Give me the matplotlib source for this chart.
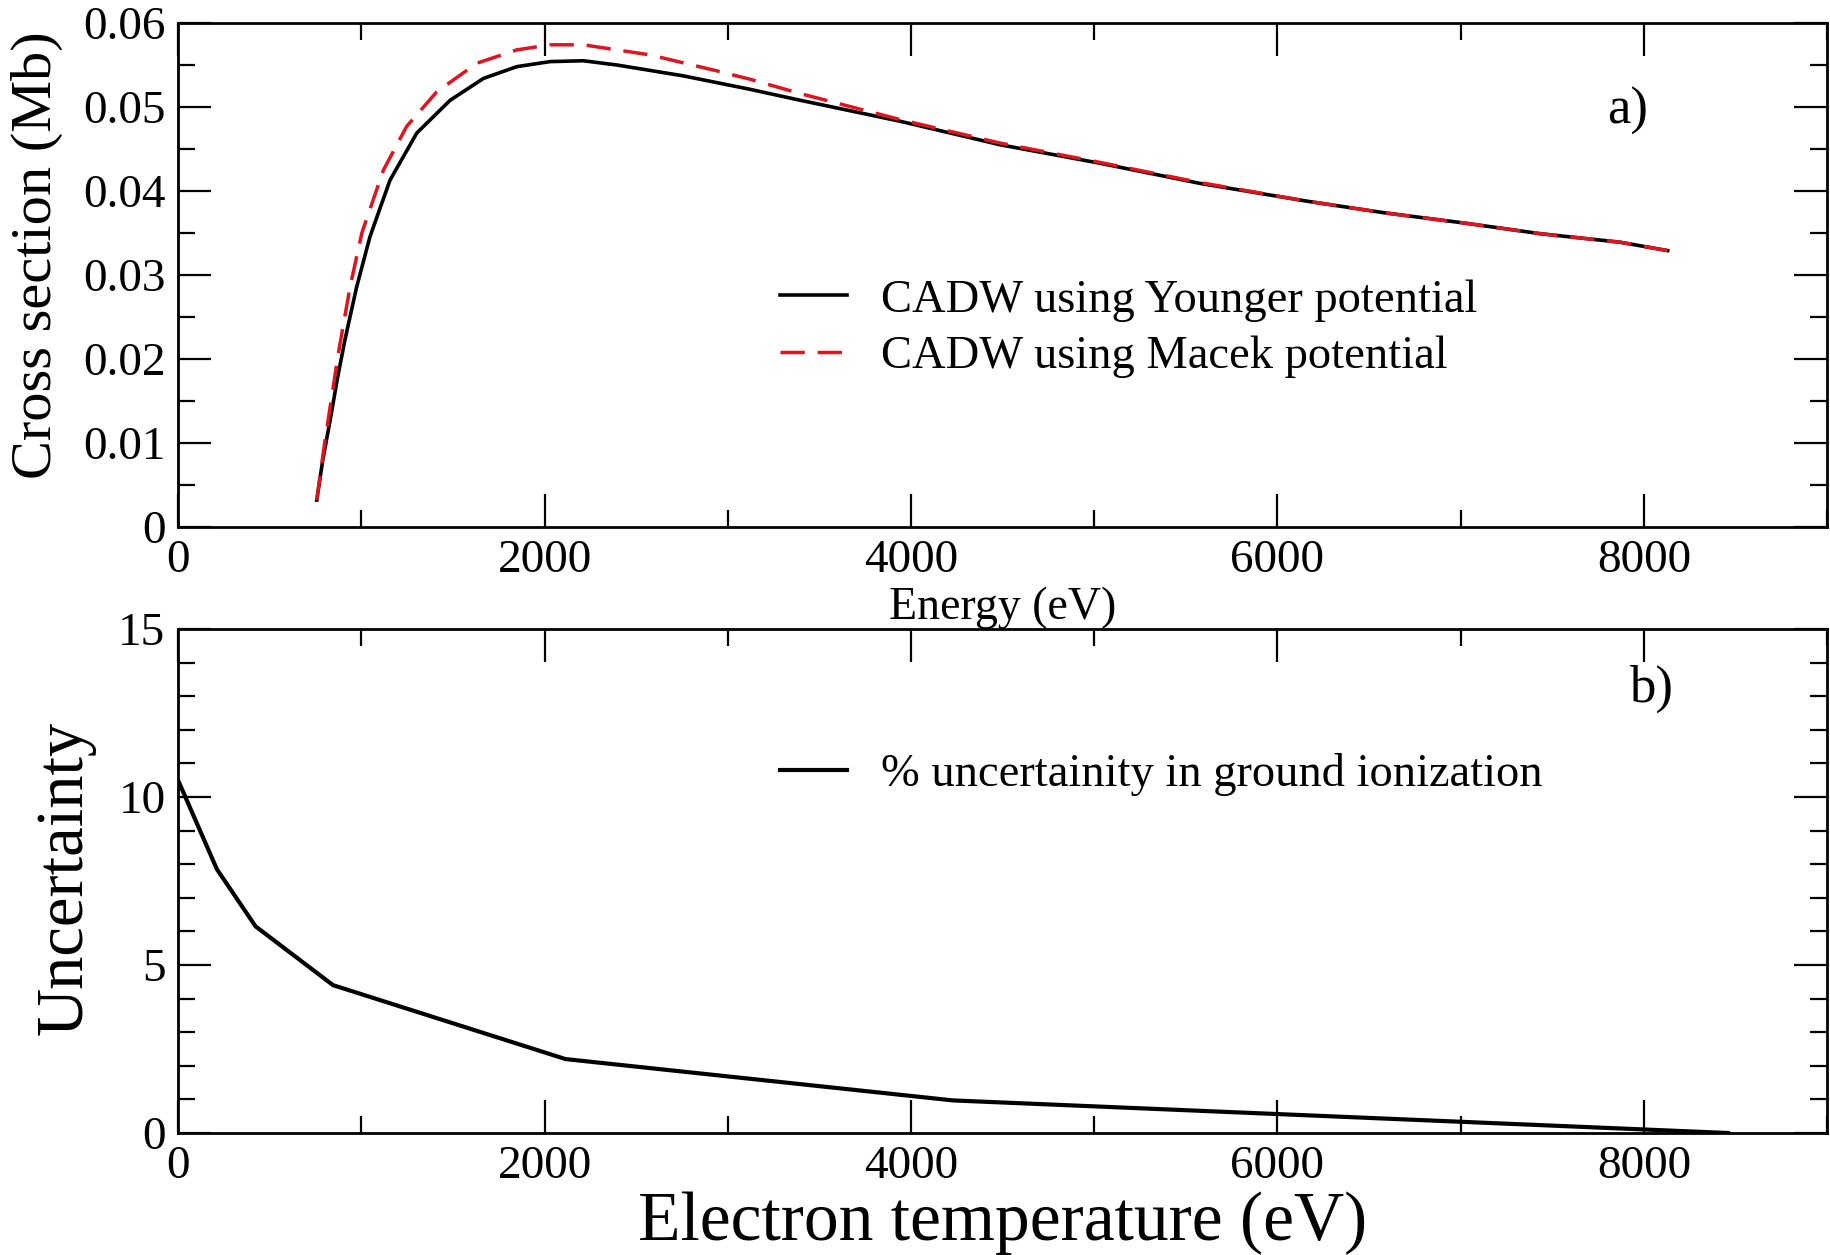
import matplotlib
matplotlib.use("Agg")
import matplotlib.pyplot as plt
from matplotlib.ticker import MultipleLocator

# style: xmgrace-like, Times-ish serif
plt.rc('font', family='Liberation Serif')
plt.rc('axes', linewidth=2.0)
plt.rc('xtick', direction='in', top=True)
plt.rc('ytick', direction='in', right=True)
plt.rc('xtick.major', size=24, width=1.6)
plt.rc('ytick.major', size=24, width=1.6)
plt.rc('xtick.minor', size=12, width=1.6, visible=True)
plt.rc('ytick.minor', size=12, width=1.6, visible=True)

# a) cross sections (Mb) vs energy (eV)
energy_younger = [757, 790, 830, 870, 911, 975, 1048, 1157, 1303, 1485, 1667, 1849,
                  2030, 2212, 2394, 2758, 3122, 3395, 3941, 4487, 5032, 5578, 6157,
                  6584, 7014, 7440, 7870, 8130]
cs_younger = [0.0032, 0.0080, 0.0127, 0.0177, 0.0223, 0.0286, 0.0346, 0.0413, 0.0469,
              0.0508, 0.0534, 0.0548, 0.0554, 0.0555, 0.0550, 0.0537, 0.0521, 0.0508,
              0.0483, 0.0455, 0.0433, 0.0409, 0.0388, 0.0374, 0.0362, 0.0349, 0.0339,
              0.0329]

energy_macek = [757, 800, 840, 875, 939, 1003, 1121, 1248, 1412, 1630, 1849, 2030,
                2212, 2576, 2940, 3122, 3395, 3941, 4487, 5032, 5578, 6157, 6584,
                7014, 7440, 7870, 8130]
cs_macek = [0.0032, 0.0100, 0.0157, 0.0207, 0.0286, 0.0350, 0.0425, 0.0477, 0.0518,
            0.0552, 0.0568, 0.0574, 0.0574, 0.0562, 0.0543, 0.0533, 0.0516, 0.0485,
            0.0457, 0.0434, 0.0410, 0.0388, 0.0374, 0.0362, 0.0349, 0.0339, 0.0329]

# b) % uncertainty vs electron temperature (eV)
temperature = [0, 212, 423, 846, 2115, 4230, 8460]
uncertainty = [10.5, 7.85, 6.15, 4.4, 2.2, 0.97, 0.0]

fig = plt.figure(figsize=(18.3, 12.55), dpi=100)
ax1 = fig.add_axes([0.0973, 0.5801, 0.9011, 0.4016])
ax2 = fig.add_axes([0.0973, 0.0972, 0.9011, 0.4016])

ax1.plot(energy_younger, cs_younger, color='black', lw=2.6,
         label='CADW using Younger potential')
ax1.plot(energy_macek, cs_macek, color='#e0141e', lw=2.5, dashes=(7, 3.7),
         label='CADW using Macek potential')
ax1.set_xlim(0, 9000)
ax1.set_ylim(0, 0.06)
ax1.xaxis.set_major_locator(MultipleLocator(2000))
ax1.xaxis.set_minor_locator(MultipleLocator(1000))
ax1.yaxis.set_major_locator(MultipleLocator(0.01))
ax1.yaxis.set_minor_locator(MultipleLocator(0.005))
ax1.yaxis.set_major_formatter(plt.FuncFormatter(lambda v, p: '0' if v == 0 else '%.2f' % v))
ax1.tick_params(labelsize=34, pad=9)
ax1.set_xlabel('Energy (eV)', fontsize=33)
ax1.xaxis.set_label_coords(0.5, -0.118)
ax1.set_ylabel('Cross section (Mb)', fontsize=42)
ax1.yaxis.set_label_coords(-0.07, 0.54)
ax1.legend(loc='upper left', bbox_to_anchor=(0.365, 0.492), frameon=False,
           fontsize=33.5, handlelength=1.45, handletextpad=0.72, labelspacing=0.3,
           borderpad=0, borderaxespad=0)
ax1.text(0.879, 0.825, 'a)', transform=ax1.transAxes, fontsize=38,
         ha='center', va='center')

ax2.plot(temperature, uncertainty, color='black', lw=3.0,
         label='% uncertainity in ground ionization')
ax2.set_xlim(0, 9000)
ax2.set_ylim(0, 15)
ax2.xaxis.set_major_locator(MultipleLocator(2000))
ax2.xaxis.set_minor_locator(MultipleLocator(1000))
ax2.yaxis.set_major_locator(MultipleLocator(5))
ax2.yaxis.set_minor_locator(MultipleLocator(1))
ax2.tick_params(labelsize=34, pad=9)
ax2.set_xlabel('Electron temperature (eV)', fontsize=50)
ax2.xaxis.set_label_coords(0.5, -0.115)
ax2.set_ylabel('Uncertainty', fontsize=48)
ax2.yaxis.set_label_coords(-0.05, 0.506)
ax2.legend(loc='upper left', bbox_to_anchor=(0.365, 0.754), frameon=False,
           fontsize=33.5, handlelength=1.45, handletextpad=0.72,
           borderpad=0, borderaxespad=0)
ax2.text(0.893, 0.881, 'b)', transform=ax2.transAxes, fontsize=38,
         ha='center', va='center')

fig.savefig('out.png', dpi=100)
